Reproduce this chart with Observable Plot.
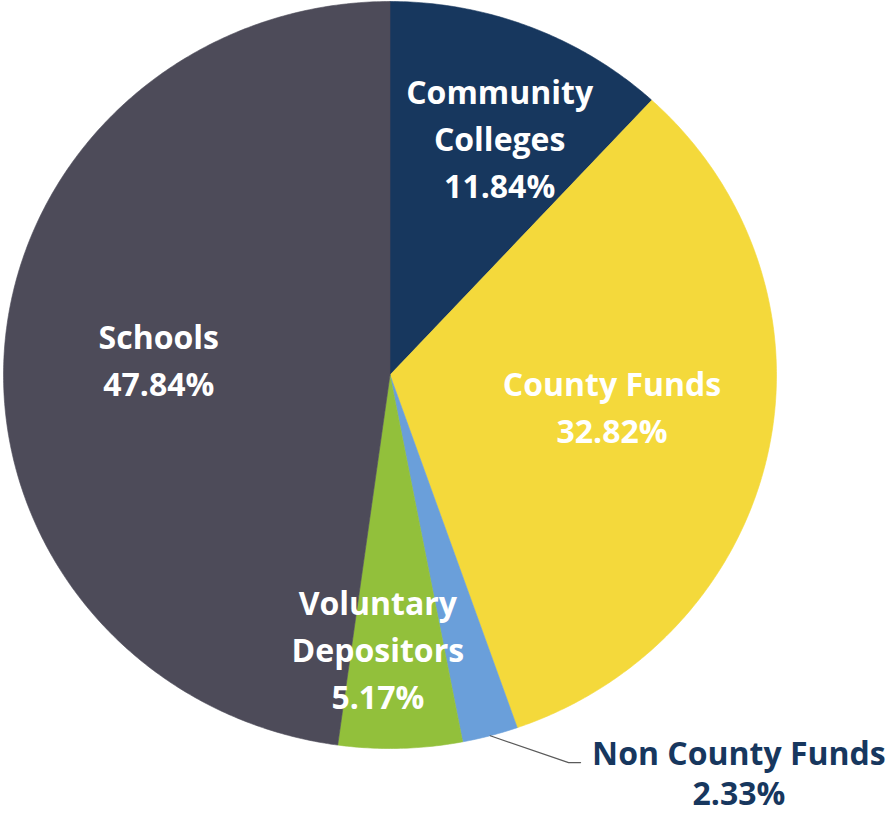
<!DOCTYPE html>
<html><head><meta charset="utf-8">
<script src="https://cdn.jsdelivr.net/npm/d3@7"></script>
<script src="https://cdn.jsdelivr.net/npm/@observablehq/plot@0.6"></script>
<style>body{margin:0;background:#fff}</style>
</head><body><div id="chart"></div>
<script>
// ---- data ----
const categories = ["Community Colleges", "County Funds", "Non County Funds", "Voluntary Depositors", "Schools"];
const labelNames = ["Community\nColleges", "County Funds", "Non County Funds", "Voluntary\nDepositors", "Schools"];
const shares = [11.84, 32.82, 2.33, 5.17, 47.84];

// ---- styling / layout ----
const colors = ["#17375e", "#f4d93b", "#6a9fda", "#92c03b", "#4d4b59"];
const outside = [false, false, true, false, false];
const labelRadius = [0.70, 0.58, 1.395, 0.73, 0.60];
const labelNudge = [2.6, -3.8, -25.3, 4, 0.6]; // degrees

const total = d3.sum(shares);
let acc = 0;
const slices = categories.map((name, i) => {
  const a0 = acc / total * 2 * Math.PI;
  acc += shares[i];
  const a1 = acc / total * 2 * Math.PI;
  return {name, i, a0, a1, mid: (a0 + a1) / 2};
});

const pts = [];
for (const s of slices) {
  pts.push({name: s.name, x: 0, y: 0});
  const n = Math.max(2, Math.ceil((s.a1 - s.a0) / (Math.PI / 360)));
  for (let k = 0; k <= n; k++) {
    const a = s.a0 + (s.a1 - s.a0) * k / n;
    pts.push({name: s.name, x: Math.sin(a), y: Math.cos(a)});
  }
  pts.push({name: s.name, x: 0, y: 0});
}

const labels = slices.map(s => {
  const a = s.mid + labelNudge[s.i] * Math.PI / 180;
  const r = labelRadius[s.i];
  return {
    x: r * Math.sin(a), y: r * Math.cos(a),
    text: labelNames[s.i] + "\n" + shares[s.i].toFixed(2) + "%",
    outside: outside[s.i]
  };
});

// leader line for the outside label
const ncf = slices[2];
const elbowA = 156 * Math.PI / 180, elbowR = 1.136;
const elbow = {x: elbowR * Math.sin(elbowA), y: elbowR * Math.cos(elbowA)};
const leader = [
  {x: Math.sin(ncf.mid), y: Math.cos(ncf.mid)},
  elbow,
  {x: elbow.x + 0.031, y: elbow.y}
];

const chart = Plot.plot({
  width: 889,
  height: 814,
  margin: 0,
  style: {background: "white"},
  x: {domain: [-1.0078, 1.2924], axis: null},
  y: {domain: [-1.1767, 1.0027], axis: null},
  color: {domain: categories, range: colors},
  marks: [
    Plot.line(pts, {x: "x", y: "y", z: "name", fill: "name", stroke: "name", strokeWidth: 0.6, curve: "linear"}),
    Plot.line(leader, {x: "x", y: "y", stroke: "#5a5a5a", strokeWidth: 1.2}),
    Plot.text(labels.filter(d => !d.outside), {x: "x", y: "y", text: "text", fill: "white",
      fontSize: 32, fontWeight: "bold", fontFamily: "Open Sans", lineHeight: 1.47}),
    Plot.text(labels.filter(d => d.outside), {x: "x", y: "y", text: "text", fill: "#17375e",
      fontSize: 32, fontWeight: "bold", fontFamily: "Open Sans", lineHeight: 1.25})
  ]
});
document.getElementById("chart").appendChild(chart);
</script>
</body></html>
